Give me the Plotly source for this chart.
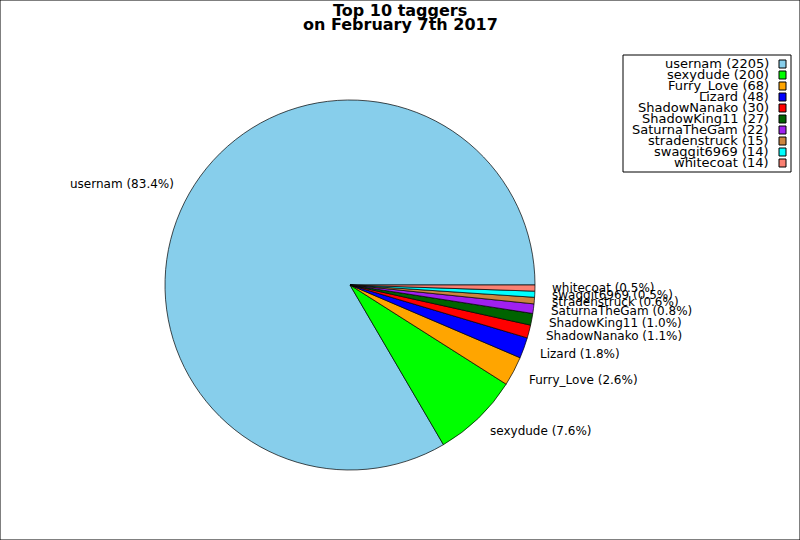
import math
import plotly.graph_objects as go

names = ["usernam", "sexydude", "Furry_Love", "Lizard", "ShadowNanako",
         "ShadowKing11", "SaturnaTheGam", "stradenstruck", "swaggit6969", "whitecoat"]
counts = [2205, 200, 68, 48, 30, 27, 22, 15, 14, 14]
colors = ["#87CEEB", "#00FF00", "#FFA500", "#0000FF", "#FF0000",
          "#006400", "#A020F0", "#CD853F", "#00FFFF", "#FA8072"]
title_lines = ["Top 10 taggers", "on February 7th 2017"]

W, H = 800, 540
CX, CY, R = 350, 285, 185  # pie centre / radius in px

total = sum(counts)
# plotly counterclockwise: first slice spans [rotation, rotation + v0] (clockwise from 12)
rotation = 90 - 360 * counts[0] / total

fig = go.Figure(go.Pie(
    labels=names, values=counts, sort=False, direction="counterclockwise",
    rotation=rotation, textinfo="none", hoverinfo="label+value+percent",
    marker=dict(colors=colors, line=dict(color="black", width=0.7)),
    domain=dict(x=[(CX - R) / W, (CX + R) / W], y=[1 - (CY + R) / H, 1 - (CY - R) / H]),
    showlegend=False,
))

annotations = []
shapes = [dict(type="rect", xref="paper", yref="paper", x0=0, y0=0, x1=1, y1=1,
               line=dict(color="black", width=1))]

cum = 0.0
for n, c in zip(names, counts):
    frac = c / total
    ang = 2 * math.pi * (cum + frac / 2)
    cum += frac
    px = CX + 1.1 * R * math.cos(ang)
    py = CY - 1.1 * R * math.sin(ang)
    right_side = math.cos(ang) >= 0
    annotations.append(dict(
        x=px / W, y=1 - py / H, xref="paper", yref="paper", showarrow=False,
        xshift=-3 if right_side else 3,
        text=f"{n} ({frac * 100:.1f}%)", xanchor="left" if right_side else "right",
        yanchor="middle", font=dict(family="DejaVu Sans", size=12, color="black")))

# title
for i, t in enumerate(title_lines):
    annotations.append(dict(x=0.5, y=1 - (10.5 + 14 * i) / H, xref="paper", yref="paper",
                            showarrow=False, text=f"<b>{t}</b>", xanchor="center", yanchor="middle",
                            font=dict(family="DejaVu Sans", size=16, color="black")))

# legend box
shapes.append(dict(type="rect", xref="paper", yref="paper",
                   x0=623 / W, x1=791 / W, y0=1 - 172 / H, y1=1 - 55 / H,
                   line=dict(color="black", width=1), fillcolor="white"))
for i, (n, c, col) in enumerate(zip(names, counts, colors)):
    yc = 64 + 11 * i
    annotations.append(dict(x=771 / W, y=1 - yc / H, xref="paper", yref="paper", showarrow=False,
                            text=f"{n} ({c})", xanchor="right", yanchor="middle",
                            font=dict(family="DejaVu Sans", size=13, color="black")))
    shapes.append(dict(type="rect", xref="paper", yref="paper",
                       x0=779 / W, x1=786 / W, y0=1 - (yc + 4) / H, y1=1 - (yc - 4) / H,
                       line=dict(color="black", width=1), fillcolor=col))

fig.update_layout(width=W, height=H, margin=dict(l=0, r=0, t=0, b=0),
                  paper_bgcolor="white", plot_bgcolor="white",
                  annotations=annotations, shapes=shapes,
                  font=dict(family="DejaVu Sans"))
fig.write_html("out.html", config={"displayModeBar": False},
               post_script="document.body.style.margin='0';")
